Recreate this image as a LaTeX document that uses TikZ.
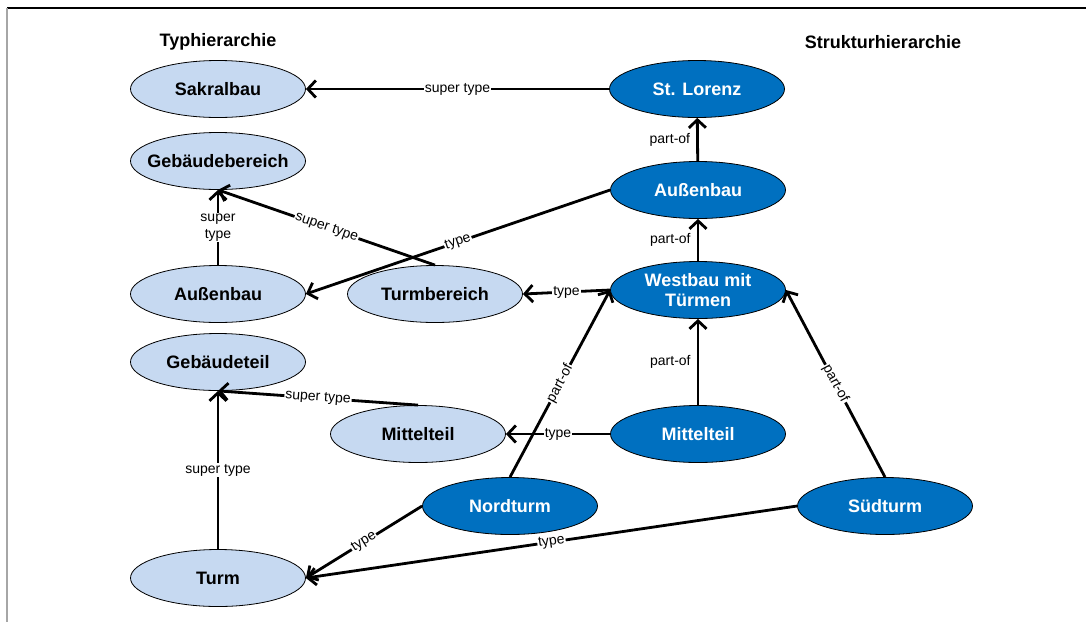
\documentclass[tikz,border=0pt]{standalone}
\usepackage{fontspec}
\setmainfont{Liberation Sans}
\usetikzlibrary{shapes.geometric,arrows.meta}
\definecolor{typfill}{HTML}{C6D9F1}
\definecolor{strukfill}{HTML}{0070C0}

\begin{document}
\begin{tikzpicture}[x=1pt,y=-1pt,
  concept/.style={ellipse, draw=black, line width=0.8pt, minimum width=175pt,
    minimum height=57pt, inner xsep=-14pt, inner ysep=0pt, align=center,
    font=\fontsize{18}{20}\selectfont\bfseries},
  typnode/.style={concept, fill=typfill, text=black},
  strnode/.style={concept, fill=strukfill, text=white},
  rel/.style={line width=2.8pt, -{Straight Barb[length=8pt,width=17pt]}},
  lbl/.style={font=\fontsize{14}{17}\selectfont, fill=white, inner sep=1pt, text=black},
  sidelbl/.style={font=\fontsize{14}{17}\selectfont, inner sep=1pt, text=black},
  heading/.style={font=\fontsize{18}{20}\selectfont\bfseries}
]
\useasboundingbox (0,0) rectangle (1086,622);
\fill[white] (0,0) rectangle (1086,622);

% frame lines
\draw[line width=1.5pt] (7,8) -- (1086,8);
\draw[gray!70, line width=2pt] (7,8) -- (7,622);

% headings
\node[heading] (hTyp) at (218,42) {Typhierarchie};
\node[heading] (hStruk) at (883,42) {Strukturhierarchie};

% type hierarchy
\node[typnode] (sakral) at (218,89) {Sakralbau};
\node[typnode] (gebb) at (218,161) {Gebäudebereich};
\node[typnode] (aussL) at (218,294) {Außenbau};
\node[typnode] (turmb) at (435,294) {Turmbereich};
\node[typnode] (gebt) at (218,362) {Gebäudeteil};
\node[typnode] (mittL) at (418,434) {Mittelteil};
\node[typnode] (turm) at (218,578) {Turm};

% structure hierarchy
\node[strnode] (lorenz) at (697,89) {St. Lorenz};
\node[strnode] (aussR) at (698,190) {Außenbau};
\node[strnode] (westbau) at (698,290) {Westbau mit\\Türmen};
\node[strnode] (mittR) at (698,434) {Mittelteil};
\node[strnode] (nord) at (510,506) {Nordturm};
\node[strnode] (sued) at (885,506) {Südturm};

% super type relations
\draw[rel] (lorenz) -- node[lbl, midway] {super type} (sakral);
\draw[rel] (aussL) -- node[lbl, midway, align=center] {super\\type} (gebb);
\draw[rel] (turmb.north) -- node[lbl, midway, sloped] {super type} (gebb.south);
\draw[rel] (mittL.north) -- node[lbl, midway, sloped] {super type} (gebt.south);
\draw[rel] (turm) -- node[lbl, midway] {super type} (gebt);

% part-of relations
\draw[rel] (aussR) -- node[sidelbl, midway, left=5pt] {part-of} (lorenz);
\draw[rel] (westbau) -- node[sidelbl, midway, left=5pt] {part-of} (aussR);
\draw[rel] (mittR) -- node[sidelbl, midway, left=5pt] {part-of} (westbau);
\draw[rel] (nord.north) -- node[lbl, midway, sloped] {part-of} (westbau.west);
\draw[rel] (sued.north) -- node[lbl, midway, sloped] {part-of} (westbau.east);

% type relations
\draw[rel] (westbau.west) -- node[lbl, midway] {type} (turmb.east);
\draw[rel] (aussR.west) -- node[lbl, midway, sloped] {type} (aussL.east);
\draw[rel] (mittR.west) -- node[lbl, midway] {type} (mittL.east);
\draw[rel] (nord.west) -- node[lbl, midway, sloped] {type} (turm.east);
\draw[rel] (sued.west) -- node[lbl, midway, sloped] {type} (turm.east);
\end{tikzpicture}
\end{document}
